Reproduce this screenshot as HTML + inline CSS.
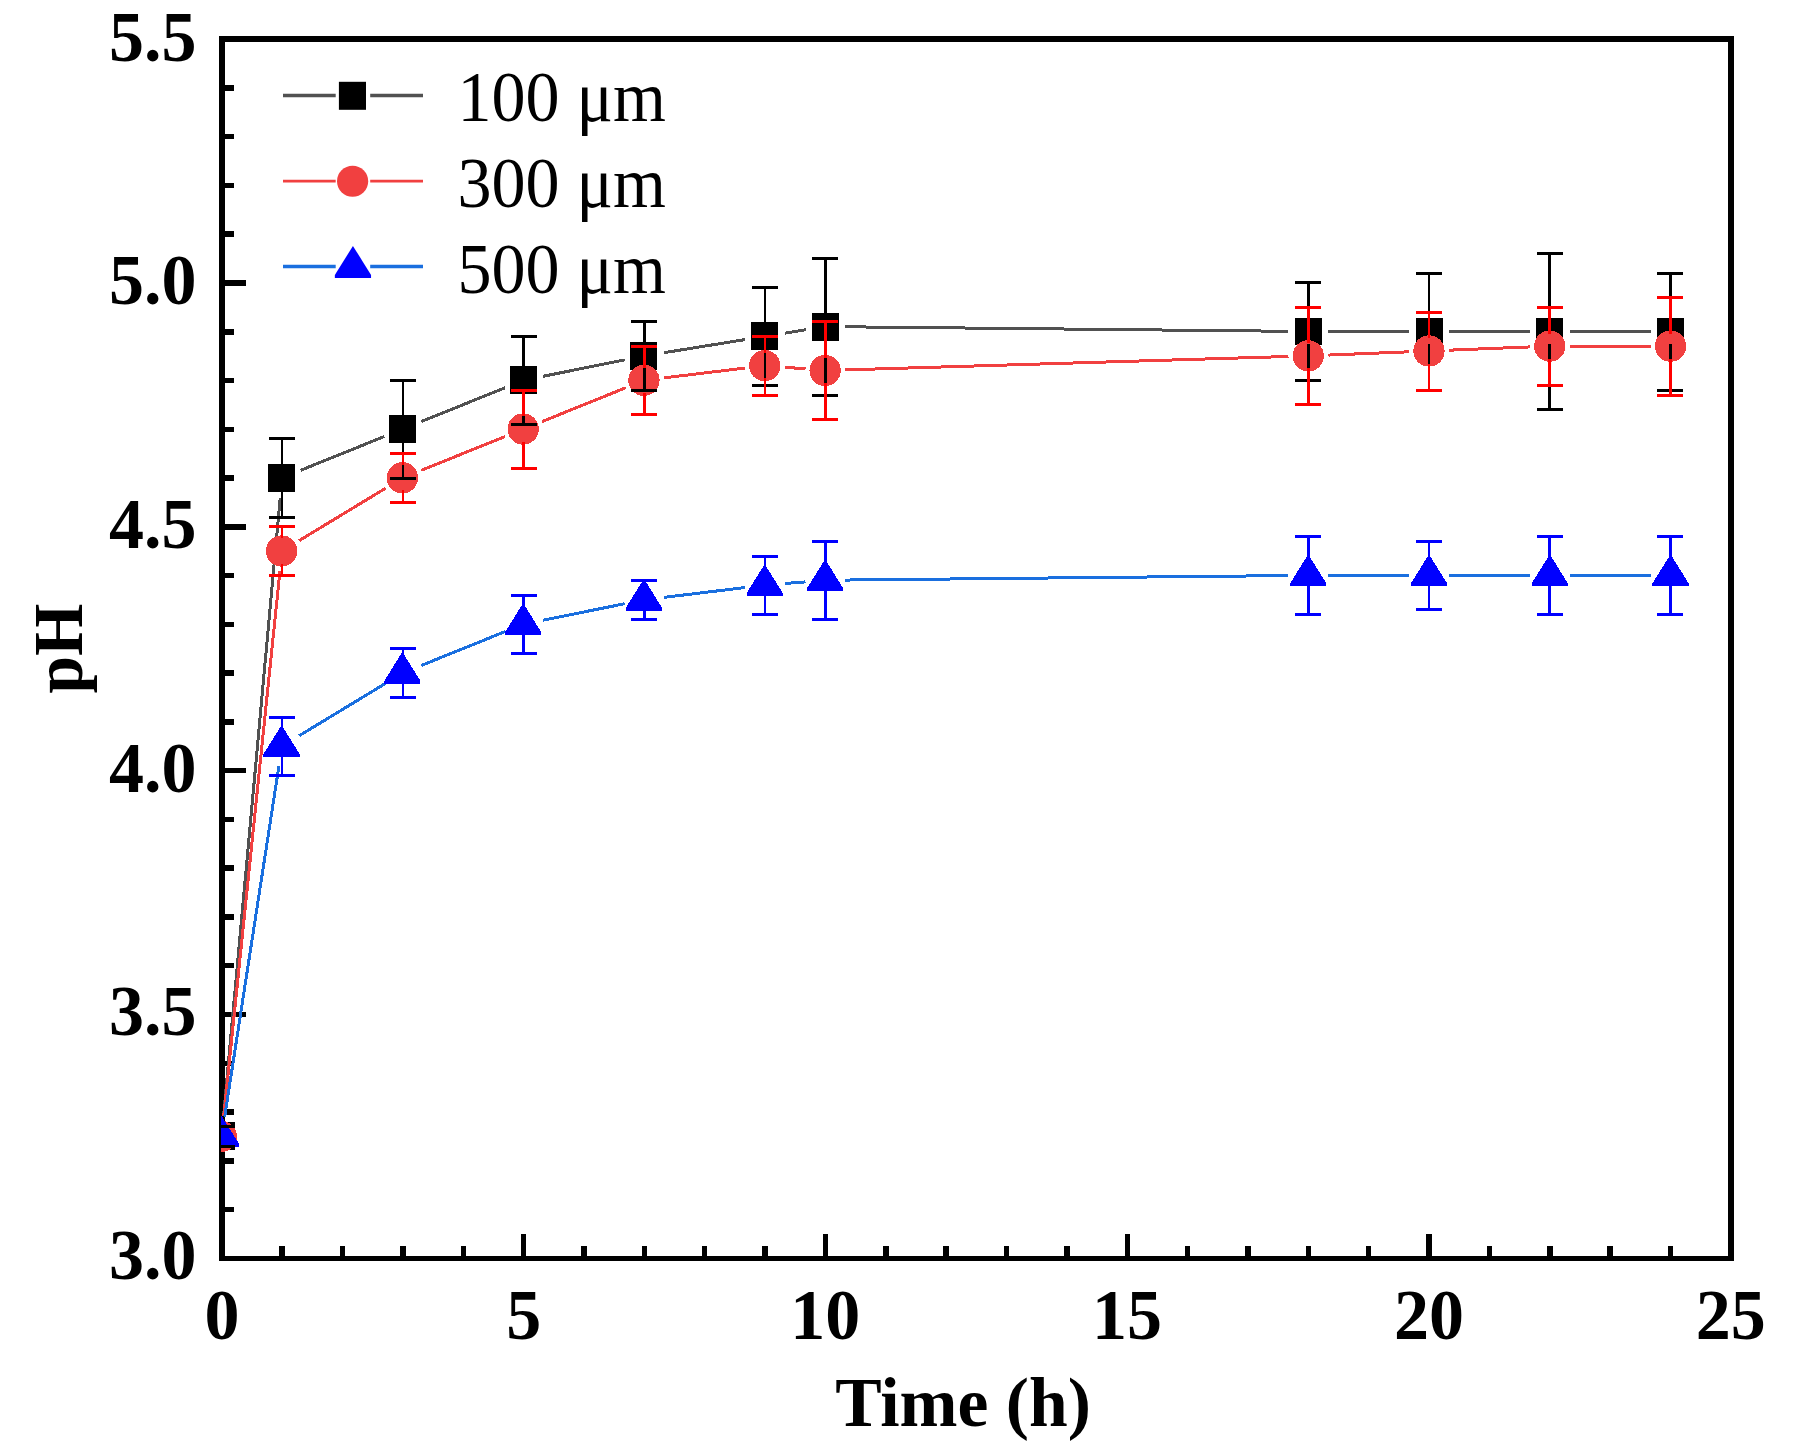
<!DOCTYPE html>
<html lang="en">
<head>
<meta charset="utf-8">
<title>pH vs Time</title>
<style>
html,body{margin:0;padding:0;background:#fff;}
body{width:1798px;height:1454px;overflow:hidden;}
svg{display:block;}
</style>
</head>
<body>
<svg width="1798" height="1454" viewBox="0 0 1798 1454">
<defs><clipPath id="plotclip"><rect x="221" y="39" width="1511" height="1220"/></clipPath></defs>
<rect width="1798" height="1454" fill="#fff"/>
<g fill="#000" shape-rendering="crispEdges"><rect x="219" y="36" width="6" height="1225"/><rect x="1728" y="36" width="6" height="1225"/><rect x="219" y="36" width="1515" height="6"/><rect x="219" y="1256" width="1515" height="5"/><rect x="224" y="1207" width="10" height="5"/><rect x="224" y="1158" width="10" height="6"/><rect x="224" y="1109" width="10" height="6"/><rect x="224" y="1061" width="10" height="5"/><rect x="224" y="1012" width="22" height="5"/><rect x="224" y="963" width="10" height="5"/><rect x="224" y="914" width="10" height="6"/><rect x="224" y="865" width="10" height="6"/><rect x="224" y="817" width="10" height="5"/><rect x="224" y="768" width="22" height="5"/><rect x="224" y="719" width="10" height="6"/><rect x="224" y="670" width="10" height="6"/><rect x="224" y="622" width="10" height="5"/><rect x="224" y="573" width="10" height="5"/><rect x="224" y="524" width="22" height="6"/><rect x="224" y="475" width="10" height="6"/><rect x="224" y="427" width="10" height="5"/><rect x="224" y="378" width="10" height="5"/><rect x="224" y="329" width="10" height="6"/><rect x="224" y="280" width="22" height="6"/><rect x="224" y="231" width="10" height="6"/><rect x="224" y="183" width="10" height="5"/><rect x="224" y="134" width="10" height="5"/><rect x="224" y="85" width="10" height="6"/><rect x="279" y="1246" width="6" height="11"/><rect x="340" y="1246" width="5" height="11"/><rect x="400" y="1246" width="6" height="11"/><rect x="461" y="1246" width="5" height="11"/><rect x="521" y="1234" width="5" height="23"/><rect x="581" y="1246" width="6" height="11"/><rect x="642" y="1246" width="5" height="11"/><rect x="702" y="1246" width="5" height="11"/><rect x="762" y="1246" width="6" height="11"/><rect x="823" y="1234" width="5" height="23"/><rect x="883" y="1246" width="6" height="11"/><rect x="943" y="1246" width="6" height="11"/><rect x="1004" y="1246" width="5" height="11"/><rect x="1064" y="1246" width="6" height="11"/><rect x="1125" y="1234" width="5" height="23"/><rect x="1185" y="1246" width="5" height="11"/><rect x="1245" y="1246" width="6" height="11"/><rect x="1306" y="1246" width="5" height="11"/><rect x="1366" y="1246" width="5" height="11"/><rect x="1426" y="1234" width="6" height="23"/><rect x="1487" y="1246" width="5" height="11"/><rect x="1547" y="1246" width="6" height="11"/><rect x="1607" y="1246" width="6" height="11"/><rect x="1668" y="1246" width="5" height="11"/></g>
<g clip-path="url(#plotclip)" shape-rendering="crispEdges"><g stroke="#515151" stroke-width="3" fill="none"><line x1="223.48" y1="1116.43" x2="280.2" y2="497.74"/><line x1="300.57" y1="470.33" x2="384.25" y2="436.53"/><line x1="421.33" y1="421.55" x2="505.01" y2="387.75"/><line x1="543.15" y1="376.3" x2="624.71" y2="359.83"/><line x1="664.05" y1="352.68" x2="745.33" y2="339.55"/><line x1="784.81" y1="333.17" x2="805.71" y2="329.79"/><line x1="845.45" y1="326.8" x2="1288.49" y2="331.28"/><line x1="1328.49" y1="331.48" x2="1409.25" y2="331.48"/><line x1="1449.25" y1="331.48" x2="1530.01" y2="331.48"/><line x1="1570.01" y1="331.48" x2="1650.77" y2="331.48"/></g><g fill="#000"><rect x="207.7" y="1122.4" width="27" height="27.9"/><rect x="268.09" y="463.87" width="27" height="27.9"/><rect x="388.87" y="415.09" width="27" height="27.9"/><rect x="509.65" y="366.31" width="27" height="27.9"/><rect x="630.43" y="341.92" width="27" height="27.9"/><rect x="751.21" y="322.41" width="27" height="27.9"/><rect x="811.6" y="312.65" width="27" height="27.9"/><rect x="1294.72" y="317.53" width="27" height="27.9"/><rect x="1415.5" y="317.53" width="27" height="27.9"/><rect x="1536.28" y="317.53" width="27" height="27.9"/><rect x="1657.06" y="317.53" width="27" height="27.9"/></g><g stroke="#f14040" stroke-width="3" fill="none"><line x1="223.7" y1="1116.46" x2="279.98" y2="570.88"/><line x1="299.14" y1="540.63" x2="385.68" y2="488.18"/><line x1="421.33" y1="470.33" x2="505.01" y2="436.53"/><line x1="542.09" y1="421.55" x2="625.77" y2="387.75"/><line x1="664.16" y1="377.85" x2="745.22" y2="368.03"/><line x1="785.01" y1="367.24" x2="805.51" y2="368.89"/><line x1="845.44" y1="369.9" x2="1288.5" y2="356.48"/><line x1="1328.47" y1="355.06" x2="1409.27" y2="351.8"/><line x1="1449.23" y1="350.18" x2="1530.03" y2="346.92"/><line x1="1570.01" y1="346.11" x2="1650.77" y2="346.11"/></g><g fill="#f14040"><circle cx="221.2" cy="1136.35" r="15.65"/><circle cx="281.59" cy="550.99" r="15.65"/><circle cx="402.37" cy="477.82" r="15.65"/><circle cx="523.15" cy="429.04" r="15.65"/><circle cx="643.93" cy="380.26" r="15.65"/><circle cx="764.71" cy="365.63" r="15.65"/><circle cx="825.1" cy="370.5" r="15.65"/><circle cx="1308.22" cy="355.87" r="15.65"/><circle cx="1429" cy="350.99" r="15.65"/><circle cx="1549.78" cy="346.11" r="15.65"/><circle cx="1670.56" cy="346.11" r="15.65"/></g><g stroke="#1a6fdf" stroke-width="3" fill="none"><line x1="224.71" y1="1116.59" x2="278.97" y2="765.87"/><line x1="299.14" y1="735.75" x2="385.68" y2="683.3"/><line x1="421.33" y1="665.45" x2="505.01" y2="631.65"/><line x1="543.15" y1="620.2" x2="624.71" y2="603.73"/><line x1="664.16" y1="597.36" x2="745.22" y2="587.54"/><line x1="785.01" y1="583.53" x2="805.51" y2="581.87"/><line x1="845.45" y1="580.06" x2="1288.49" y2="575.58"/><line x1="1328.49" y1="575.38" x2="1409.25" y2="575.38"/><line x1="1449.25" y1="575.38" x2="1530.01" y2="575.38"/><line x1="1570.01" y1="575.38" x2="1650.77" y2="575.38"/></g><g fill="#0000ff"><polygon points="221.2,1115.25 239.3,1144.35 239.3,1147.45 203.1,1147.45 203.1,1144.35"/><polygon points="281.59,725.01 299.69,754.11 299.69,757.21 263.49,757.21 263.49,754.11"/><polygon points="402.37,651.84 420.47,680.94 420.47,684.04 384.27,684.04 384.27,680.94"/><polygon points="523.15,603.06 541.25,632.16 541.25,635.26 505.05,635.26 505.05,632.16"/><polygon points="643.93,578.67 662.03,607.77 662.03,610.87 625.83,610.87 625.83,607.77"/><polygon points="764.71,564.04 782.81,593.14 782.81,596.24 746.61,596.24 746.61,593.14"/><polygon points="825.1,559.16 843.2,588.26 843.2,591.36 807,591.36 807,588.26"/><polygon points="1308.22,554.28 1326.32,583.38 1326.32,586.48 1290.12,586.48 1290.12,583.38"/><polygon points="1429,554.28 1447.1,583.38 1447.1,586.48 1410.9,586.48 1410.9,583.38"/><polygon points="1549.78,554.28 1567.88,583.38 1567.88,586.48 1531.68,586.48 1531.68,583.38"/><polygon points="1670.56,554.28 1688.66,583.38 1688.66,586.48 1652.46,586.48 1652.46,583.38"/></g><g stroke="#000" fill="none"><path stroke-width="3" d="M208.8 1126.5H234.8M208.8 1146.5H234.8M269.16 438.5H295.16M269.16 517.5H295.16M389.88 380.5H415.88M389.88 478.5H415.88M510.6 336.5H536.6M510.6 424.5H536.6M631.32 321.5H657.32M631.32 390.5H657.32M752.04 287.5H778.04M752.04 385.5H778.04M812.4 258.5H838.4M812.4 395.5H838.4M1295.28 282.5H1321.28M1295.28 380.5H1321.28M1416 273.5H1442M1416 390.5H1442M1536.72 253.5H1562.72M1536.72 409.5H1562.72M1657.44 273.5H1683.44M1657.44 390.5H1683.44"/><path stroke-width="2.5" d="M282.16 438.5V465.22M282.16 490.42V517.5M402.88 380.5V416.44M402.88 441.64V478.5M523.6 336.5V367.66M523.6 392.86V424.5M644.32 321.5V343.27M644.32 368.47V390.5M765.04 287.5V323.76M765.04 348.96V385.5M825.4 258.5V314M825.4 339.2V395.5M1308.28 282.5V318.88M1308.28 344.08V380.5M1429 273.5V318.88M1429 344.08V390.5M1549.72 253.5V318.88M1549.72 344.08V409.5M1670.44 273.5V318.88M1670.44 344.08V390.5"/></g><g stroke="#ff0000" fill="none"><path stroke-width="3" d="M269.16 526.5H295.16M269.16 575.5H295.16M389.88 453.5H415.88M389.88 502.5H415.88M510.6 390.5H536.6M510.6 468.5H536.6M631.32 346.5H657.32M631.32 414.5H657.32M752.04 336.5H778.04M752.04 395.5H778.04M812.4 321.5H838.4M812.4 419.5H838.4M1295.28 307.5H1321.28M1295.28 404.5H1321.28M1416 312.5H1442M1416 390.5H1442M1536.72 307.5H1562.72M1536.72 385.5H1562.72M1657.44 297.5H1683.44M1657.44 395.5H1683.44"/><path stroke-width="2.5" d="M282.16 526.5V538.39M282.16 563.59V575.5M402.88 453.5V465.22M402.88 490.42V502.5M523.6 390.5V416.44M523.6 441.64V468.5M644.32 346.5V367.66M644.32 392.86V414.5M765.04 336.5V353.03M765.04 378.23V395.5M825.4 321.5V357.9M825.4 383.1V419.5M1308.28 307.5V343.27M1308.28 368.47V404.5M1429 312.5V338.39M1429 363.59V390.5M1549.72 307.5V333.51M1549.72 358.71V385.5M1670.44 297.5V333.51M1670.44 358.71V395.5"/></g><g stroke="#0000ff" fill="none"><path stroke-width="3" d="M269.16 717.5H295.16M269.16 775.5H295.16M389.88 648.5H415.88M389.88 697.5H415.88M510.6 595.5H536.6M510.6 653.5H536.6M631.32 580.5H657.32M631.32 619.5H657.32M752.04 556.5H778.04M752.04 614.5H778.04M812.4 541.5H838.4M812.4 619.5H838.4M1295.28 536.5H1321.28M1295.28 614.5H1321.28M1416 541.5H1442M1416 609.5H1442M1536.72 536.5H1562.72M1536.72 614.5H1562.72M1657.44 536.5H1683.44M1657.44 614.5H1683.44"/><path stroke-width="2.5" d="M282.16 717.5V741.11M282.16 751.11V775.5M402.88 648.5V667.94M402.88 677.94V697.5M523.6 595.5V619.16M523.6 629.16V653.5M644.32 580.5V594.77M644.32 604.77V619.5M765.04 556.5V580.14M765.04 590.14V614.5M825.4 541.5V575.26M825.4 585.26V619.5M1308.28 536.5V570.38M1308.28 580.38V614.5M1429 541.5V570.38M1429 580.38V609.5M1549.72 536.5V570.38M1549.72 580.38V614.5M1670.44 536.5V570.38M1670.44 580.38V614.5"/></g></g>
<path d="M283 95.5H335.7M370.2 95.5H423" stroke="#515151" stroke-width="3.5" fill="none"/><rect x="338.9" y="81.8" width="27.1" height="28" fill="#000"/><path d="M283 181.1H335.7M370.2 181.1H423" stroke="#f14040" stroke-width="2.6" fill="none"/><circle cx="352.6" cy="181.25" r="15.6" fill="#f14040"/><path d="M283 266.6H335.7M370.2 266.6H423" stroke="#1a6fdf" stroke-width="3.5" fill="none"/><polygon points="352.95,245.9 371.05,275 371.05,278.1 334.85,278.1 334.85,275" fill="#0000ff"/><g font-family="'Liberation Serif', 'Times New Roman', Times, serif" font-size="70" fill="#000"><text transform="translate(457.5 121.2) scale(0.972 1.02)">100 μm</text><text transform="translate(457.5 207.1) scale(0.972 1.02)">300 μm</text><text transform="translate(457.5 292.7) scale(0.972 1.02)">500 μm</text></g>
<g font-family="'Liberation Serif', 'Times New Roman', Times, serif" font-weight="bold" font-size="70" fill="#000"><text transform="translate(196.6 1279.2) scale(1.0 1.012)" text-anchor="end">3.0</text><text transform="translate(196.6 1035.48) scale(1.0 1.012)" text-anchor="end">3.5</text><text transform="translate(196.6 791.76) scale(1.0 1.012)" text-anchor="end">4.0</text><text transform="translate(196.6 548.04) scale(1.0 1.012)" text-anchor="end">4.5</text><text transform="translate(196.6 304.32) scale(1.0 1.012)" text-anchor="end">5.0</text><text transform="translate(196.6 60.6) scale(1.0 1.012)" text-anchor="end">5.5</text><text transform="translate(222 1339.2) scale(1.0 1.012)" text-anchor="middle">0</text><text transform="translate(523.8 1339.2) scale(1.0 1.012)" text-anchor="middle">5</text><text transform="translate(825.3 1339.2) scale(1.0 1.012)" text-anchor="middle">10</text><text transform="translate(1127.1 1339.2) scale(1.0 1.012)" text-anchor="middle">15</text><text transform="translate(1428.9 1339.2) scale(1.0 1.012)" text-anchor="middle">20</text><text transform="translate(1730.7 1339.2) scale(1.0 1.012)" text-anchor="middle">25</text><text transform="translate(963 1426.4) scale(0.994 1.008)" text-anchor="middle">Time (h)</text><text transform="translate(82.2 648.6) rotate(-90) scale(0.96 1.005)" text-anchor="middle">pH</text></g>
</svg>
</body>
</html>
